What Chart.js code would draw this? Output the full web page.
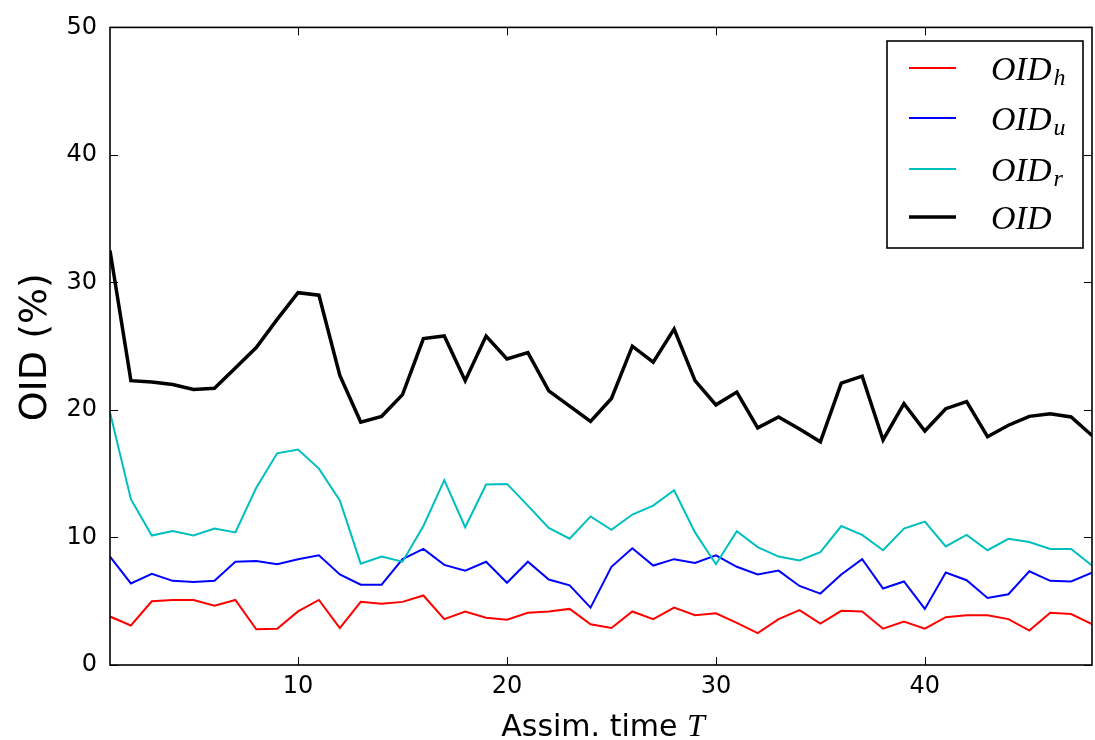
<!DOCTYPE html>
<html><head><meta charset="utf-8">
<script src="https://cdn.jsdelivr.net/npm/chart.js@4.4.0/dist/chart.umd.min.js"></script>
<style>html,body{margin:0;padding:0;background:#fff;overflow:hidden;}</style>
</head><body>
<canvas id="c" width="1095" height="740"></canvas>
<script>
const T = [1,2,3,4,5,6,7,8,9,10,11,12,13,14,15,16,17,18,19,20,21,22,23,24,25,26,27,28,29,30,31,32,33,34,35,36,37,38,39,40,41,42,43,44,45,46,47,48];
const oidH = [3.8,3.1,5.0,5.1,5.1,4.65,5.1,2.8,2.85,4.2, 5.1,2.9,4.95,4.8,4.95,5.45,3.6,4.2,3.7,3.55, 4.1,4.2,4.4,3.2,2.9,4.2,3.6,4.5,3.9,4.05, 3.3,2.5,3.6,4.3,3.25,4.25,4.2,2.85,3.4,2.85, 3.75,3.9,3.9,3.6,2.7,4.1,4.0,3.2];
const oidU = [8.5,6.4,7.15,6.6,6.5,6.6,8.1,8.15,7.9,8.3, 8.6,7.1,6.3,6.3,8.3,9.1,7.85,7.4,8.1,6.45, 8.1,6.7,6.25,4.5,7.7,9.15,7.8,8.3,8.0,8.6, 7.7,7.1,7.4,6.2,5.6,7.1,8.3,6.0,6.55,4.4, 7.25,6.65,5.25,5.55,7.35,6.6,6.55,7.25];
const oidR = [19.8,13.0,10.15,10.5,10.15,10.7,10.4,13.9,16.6,16.9, 15.4,12.9,7.95,8.5,8.1,10.9,14.5,10.8,14.15,14.2, 12.5,10.75,9.9,11.65,10.6,11.8,12.5,13.7,10.4,7.9, 10.5,9.25,8.5,8.2,8.85,10.9,10.2,9.0,10.7,11.25, 9.3,10.2,9.0,9.9,9.65,9.1,9.1,7.8];
const oid  = [32.5,22.3,22.2,22.0,21.6,21.7,23.3,24.9,27.1,29.2, 29.0,22.7,19.05,19.5,21.2,25.6,25.8,22.3,25.8,24.0, 24.5,21.5,20.3,19.1,20.9,25.0,23.75,26.35,22.3,20.4, 21.4,18.6,19.45,18.5,17.5,22.1,22.65,17.65,20.5,18.35, 20.1,20.65,17.9,18.8,19.5,19.7,19.45,18.0];
const xTicks = [10,20,30,40];
const yTicks = [0,10,20,30,40,50];
const seriesNames = ['OID_h','OID_u','OID_r','OID'];
const xTitle = 'Assim. time ';
const xTitleVar = 'T';
const yTitle = 'OID (%)';

const pts = arr => arr.map((v,i)=>({x:T[i], y:v}));

const frame = {
  id:'frame',
  afterDraw(chart){
    const ctx = chart.ctx, a = chart.chartArea;
    const xs = chart.scales.x, ys = chart.scales.y;
    ctx.save();
    ctx.strokeStyle = '#000';
    ctx.lineWidth = 1;
    const tl = 8;
    ctx.beginPath();
    xTicks.forEach(v=>{
      const px = Math.round(xs.getPixelForValue(v))+0.5;
      ctx.moveTo(px, a.bottom); ctx.lineTo(px, a.bottom-tl);
      ctx.moveTo(px, a.top); ctx.lineTo(px, a.top+tl);
    });
    yTicks.forEach(v=>{
      const py = Math.round(ys.getPixelForValue(v))+0.5;
      ctx.moveTo(a.left, py); ctx.lineTo(a.left+tl, py);
      ctx.moveTo(a.right, py); ctx.lineTo(a.right-tl, py);
    });
    ctx.stroke();
    ctx.lineWidth = 1.6;
    ctx.strokeRect(a.left, a.top, a.right-a.left, a.bottom-a.top);

    // axis titles
    ctx.fillStyle = '#000';
    ctx.font = '30px "DejaVu Sans"';
    const w1 = ctx.measureText(xTitle).width;
    ctx.font = 'italic 32px "Liberation Serif"';
    const w2 = ctx.measureText(xTitleVar).width;
    const cx = (a.left+a.right)/2 + 2;
    let sx = cx - (w1+w2)/2;
    ctx.textBaseline = 'alphabetic';
    ctx.textAlign = 'left';
    ctx.font = '30px "DejaVu Sans"';
    ctx.fillText(xTitle, sx, 736);
    ctx.font = 'italic 32px "Liberation Serif"';
    ctx.fillText(xTitleVar, sx+w1, 736);

    ctx.save();
    ctx.translate(36, (a.top+a.bottom)/2+1);
    ctx.rotate(-Math.PI/2);
    ctx.textAlign = 'center';
    ctx.textBaseline = 'middle';
    ctx.font = '38px "DejaVu Sans"';
    ctx.fillText(yTitle, 0, 0);
    ctx.restore();

    // legend
    const bx = 887, by = 41, bw = 196, bh = 207;
    ctx.fillStyle = '#fff';
    ctx.fillRect(bx, by, bw, bh);
    ctx.lineWidth = 1.6;
    ctx.strokeStyle = '#000';
    ctx.strokeRect(bx, by, bw, bh);
    const rows = [68,118,169,217];
    const dsOrder = [1,2,3,0];
    rows.forEach((ry,i)=>{
      const ds = chart.data.datasets[dsOrder[i]];
      ctx.strokeStyle = ds.borderColor;
      ctx.lineWidth = ds.borderWidth;
      ctx.beginPath(); ctx.moveTo(909, ry); ctx.lineTo(956, ry); ctx.stroke();
      const name = ds.label;
      const parts = name.split('_');
      ctx.fillStyle = '#000';
      ctx.textAlign = 'left';
      ctx.textBaseline = 'alphabetic';
      ctx.font = 'italic 34px "Liberation Serif"';
      ctx.fillText(parts[0], 991, ry+12);
      if (parts[1]) {
        const w = ctx.measureText(parts[0]).width;
        ctx.font = 'italic 24px "Liberation Serif"';
        ctx.fillText(parts[1], 991+w+2, ry+17);
      }
    });
    ctx.restore();
  }
};

new Chart(document.getElementById('c'), {
  type:'line',
  data:{
    datasets:[
      {label:seriesNames[3], data:pts(oid), borderColor:'#000000', borderWidth:3.5, order:0},
      {label:seriesNames[0], data:pts(oidH), borderColor:'#ff0000', borderWidth:2, order:3},
      {label:seriesNames[1], data:pts(oidU), borderColor:'#0000ff', borderWidth:2, order:2},
      {label:seriesNames[2], data:pts(oidR), borderColor:'#00bfbf', borderWidth:2, order:1}
    ]
  },
  options:{
    responsive:false,
    devicePixelRatio:1,
    animation:false,
    events:[],
    layout:{padding:{top:25,right:3,left:0,bottom:0}},
    elements:{point:{radius:0}, line:{tension:0, fill:false, borderJoinStyle:'miter'}},
    plugins:{legend:{display:false}, tooltip:{enabled:false}},
    scales:{
      x:{
        type:'linear', min:1, max:48,
        afterBuildTicks(s){ s.ticks = xTicks.map(v=>({value:v})); },
        afterFit(s){ s.height = 75; },
        grid:{display:false, drawTicks:false},
        border:{display:false},
        ticks:{font:{family:'DejaVu Sans', size:24}, color:'#000', padding:7, maxRotation:0, autoSkip:false}
      },
      y:{
        min:0, max:50,
        afterBuildTicks(s){ s.ticks = yTicks.map(v=>({value:v})); },
        afterFit(s){ s.width = 110; },
        grid:{display:false, drawTicks:false},
        border:{display:false},
        ticks:{font:{family:'DejaVu Sans', size:24}, color:'#000', padding:13}
      }
    }
  },
  plugins:[frame]
});
</script>
</body></html>
